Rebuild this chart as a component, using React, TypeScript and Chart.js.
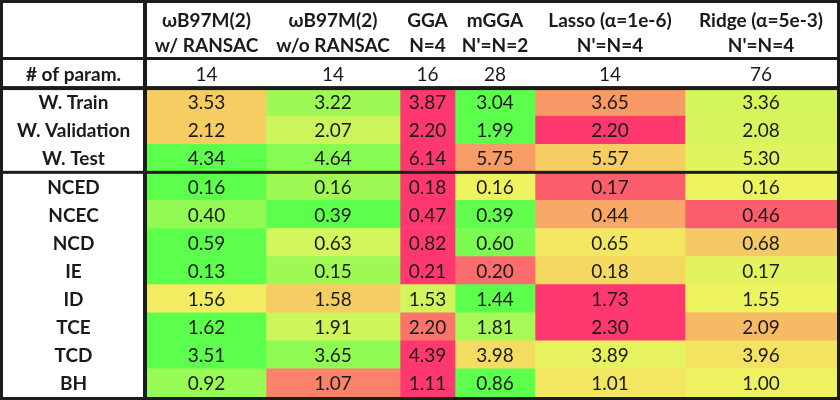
import { useEffect, useRef } from "react";
import { Chart, registerables } from "chart.js";

Chart.register(...registerables);

// ---- data ----
const rowLabels = [
  "# of param.",
  "W. Train",
  "W. Validation",
  "W. Test",
  "NCED",
  "NCEC",
  "NCD",
  "IE",
  "ID",
  "TCE",
  "TCD",
  "BH",
];

const methodHeaders = [
  ["ωB97M(2)", "w/ RANSAC"],
  ["ωB97M(2)", "w/o RANSAC"],
  ["GGA", "N=4"],
  ["mGGA", "N'=N=2"],
  ["Lasso (α=1e-6)", "N'=N=4"],
  ["Ridge (α=5e-3)", "N'=N=4"],
];

const paramCounts = [14, 14, 16, 28, 14, 76];

const wb97mWithRansac = [3.53, 2.12, 4.34, 0.16, 0.4, 0.59, 0.13, 1.56, 1.62, 3.51, 0.92];
const wb97mWithoutRansac = [3.22, 2.07, 4.64, 0.16, 0.39, 0.63, 0.15, 1.58, 1.91, 3.65, 1.07];
const ggaN4 = [3.87, 2.2, 6.14, 0.18, 0.47, 0.82, 0.21, 1.53, 2.2, 4.39, 1.11];
const mggaN2 = [3.04, 1.99, 5.75, 0.16, 0.39, 0.6, 0.2, 1.44, 1.81, 3.98, 0.86];
const lassoN4 = [3.65, 2.2, 5.57, 0.17, 0.44, 0.65, 0.18, 1.73, 2.3, 3.89, 1.01];
const ridgeN4 = [3.36, 2.08, 5.3, 0.16, 0.46, 0.68, 0.17, 1.55, 2.09, 3.96, 1.0];

const methodValues = [wb97mWithRansac, wb97mWithoutRansac, ggaN4, mggaN2, lassoN4, ridgeN4];

// ---- style: colour-scale level of every cell (0 = green, 0.5 = yellow, 1 = red) ----
const heatWithRansac = [0.6, 0.6, 0, 0, 0.18, 0, 0, 0.52, 0, 0, 0.2];
const heatWithoutRansac = [0.22, 0.37, 0.14, 0.22, 0, 0.4, 0.22, 0.6, 0.38, 0.17, 0.8];
const heatGga = [1, 1, 1, 1, 1, 1, 1, 0.39, 0.84, 1, 1];
const heatMgga = [0, 0, 0.73, 0.48, 0.02, 0.1, 0.86, 0, 0.25, 0.56, 0];
const heatLasso = [0.74, 1, 0.6, 0.9, 0.7, 0.53, 0.57, 1, 1, 0.46, 0.53];
const heatRidge = [0.4, 0.41, 0.44, 0.48, 0.9, 0.61, 0.45, 0.48, 0.65, 0.54, 0.49];
const heats = [heatWithRansac, heatWithoutRansac, heatGga, heatMgga, heatLasso, heatRidge];

// ---- layout ----
const colWidths = [119, 134, 55, 80, 150, 152];
const LABEL_COL = 147;
const HEADER_H = 60;
const FONT = "Lato, 'Noto Sans', 'DejaVu Sans', sans-serif";
const TEXT = "#1a1a1a";
const LINE = "#1c1c1c";

const GREEN = [92, 255, 76];
const YELLOW = [242, 242, 96];
const RED = [255, 56, 112];

function heatColor(t: number): string {
  const a = t <= 0.5 ? GREEN : YELLOW;
  const b = t <= 0.5 ? YELLOW : RED;
  const f = t <= 0.5 ? t / 0.5 : (t - 0.5) / 0.5;
  const c = a.map((v, i) => Math.round(v + (b[i] - v) * f));
  return `rgb(${c[0]},${c[1]},${c[2]})`;
}

export default function App() {
  const ref = useRef<HTMLCanvasElement>(null);

  useEffect(() => {
    document.body.style.margin = "0";
    const canvas = ref.current!;

    const colStart: number[] = [];
    let acc = 0;
    colWidths.forEach((w) => {
      colStart.push(acc);
      acc += w;
    });
    const total = acc;
    const colCenters = colStart.map((s, i) => s + colWidths[i] / 2);

    const textPlugin = {
      id: "tableText",
      afterDatasetsDraw(chart: any) {
        const ctx = chart.ctx;
        const ca = chart.chartArea;
        const xs = chart.scales.x;
        const ys = chart.scales.y;
        ctx.save();
        ctx.fillStyle = TEXT;
        ctx.textAlign = "center";
        ctx.textBaseline = "middle";
        // cell values
        ctx.font = `normal 19px ${FONT}`;
        chart.data.datasets.forEach((_: any, ci: number) => {
          const meta = chart.getDatasetMeta(ci);
          meta.data.forEach((bar: any, ri: number) => {
            const p = bar.getProps(["x", "y", "base"], true);
            const txt = ri === 0 ? String(paramCounts[ci]) : methodValues[ci][ri - 1].toFixed(2);
            ctx.fillText(txt, (p.x + p.base) / 2, p.y + 1);
          });
        });
        // column headers
        ctx.font = `bold 19px ${FONT}`;
        methodHeaders.forEach((lines, ci) => {
          const cx = xs.getPixelForValue(colCenters[ci]);
          ctx.fillText(lines[0], cx, ca.top - 39);
          ctx.fillText(lines[1], cx, ca.top - 14);
        });
        // row labels
        const lx = (ca.left - 4) / 2 + 2;
        rowLabels.forEach((lab, ri) => {
          ctx.fillText(lab, lx, ys.getPixelForValue(ri) + 1);
        });
        ctx.restore();
      },
    };

    const bordersPlugin = {
      id: "tableBorders",
      afterDraw(chart: any) {
        const ctx = chart.ctx;
        const ca = chart.chartArea;
        const y = chart.scales.y;
        const W = chart.width;
        const H = chart.height;
        ctx.save();
        ctx.fillStyle = LINE;
        ctx.fillRect(0, 0, W, 3);
        ctx.fillRect(0, H - 3, W, 3);
        ctx.fillRect(0, 0, 3, H);
        ctx.fillRect(W - 3, 0, 3, H);
        ctx.fillRect(ca.left - 4, 0, 4, H);
        ctx.fillRect(0, ca.top - 3, W, 3);
        const b1 = (y.getPixelForValue(0) + y.getPixelForValue(1)) / 2;
        ctx.fillRect(0, b1 - 2, W, 4);
        const b2 = (y.getPixelForValue(3) + y.getPixelForValue(4)) / 2;
        ctx.fillRect(0, b2 - 1.5, W, 3);
        ctx.restore();
      },
    };

    const chart = new Chart(canvas, {
      type: "bar",
      data: {
        labels: rowLabels,
        datasets: methodValues.map((_, ci) => ({
          label: methodHeaders[ci].join(" "),
          data: rowLabels.map(() => [colStart[ci], colStart[ci] + colWidths[ci]]),
          backgroundColor: rowLabels.map((_l, ri) =>
            ri === 0 ? "#ffffff" : heatColor(heats[ci][ri - 1])
          ),
          borderWidth: 0,
          grouped: false,
          barPercentage: 1,
          categoryPercentage: 1,
        })) as any,
      },
      options: {
        indexAxis: "y",
        responsive: false,
        animation: false,
        events: [],
        layout: { padding: { left: 0, top: 0, right: 3, bottom: 3 } },
        plugins: {
          legend: { display: false },
          tooltip: { enabled: false },
        },
        scales: {
          x: {
            type: "linear",
            position: "top",
            min: 0,
            max: total,
            grid: { display: false },
            border: { display: false },
            ticks: { display: false },
            afterFit: (s: any) => {
              s.height = HEADER_H;
              s.paddingLeft = 0;
              s.paddingRight = 0;
            },
          },
          y: {
            type: "category",
            grid: { display: false },
            border: { display: false },
            ticks: { display: false },
            afterFit: (s: any) => {
              s.width = LABEL_COL;
              s.paddingTop = 0;
              s.paddingBottom = 0;
            },
          },
        },
      } as any,
      plugins: [textPlugin, bordersPlugin],
    });

    return () => chart.destroy();
  }, []);

  return (
    <div style={{ position: "absolute", left: 0, top: 0, width: 840, height: 400, background: "#fff" }}>
      <canvas ref={ref} width={840} height={400} style={{ display: "block", width: 840, height: 400 }} />
    </div>
  );
}
